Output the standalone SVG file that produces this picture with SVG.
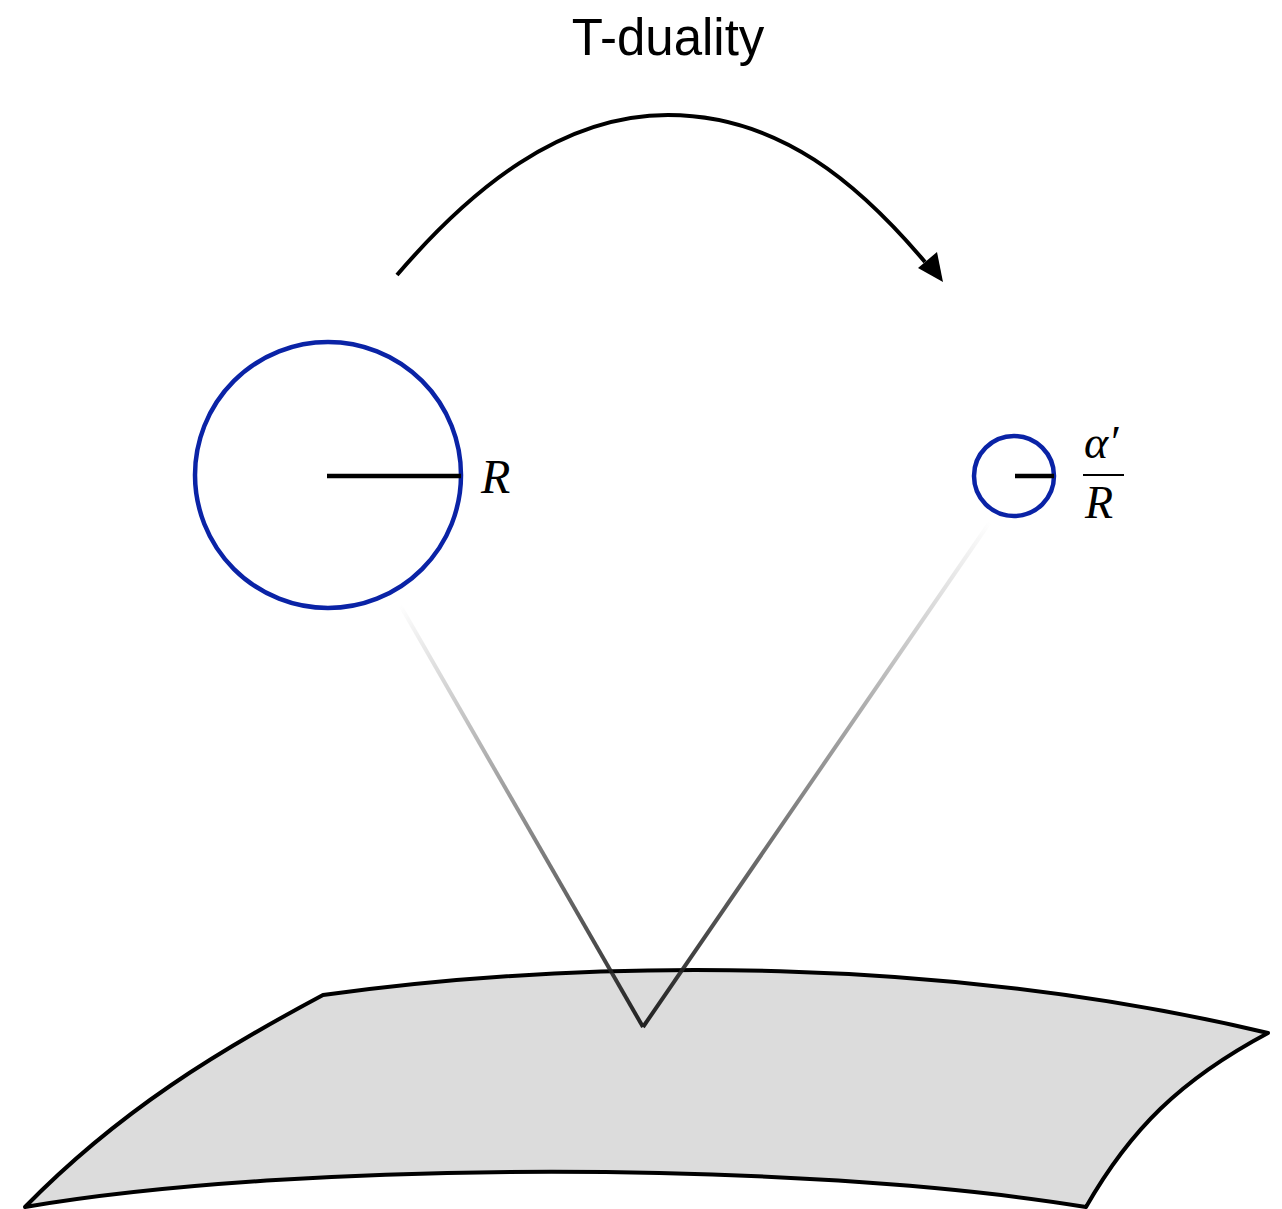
<svg xmlns="http://www.w3.org/2000/svg" width="1282" height="1209" viewBox="0 0 1282 1209">
<style>
.sheet{fill:#dcdcdc;stroke:#000;stroke-width:4;stroke-linejoin:round}
.circ{fill:none;stroke:#0a23a6;stroke-width:4.5}
.rad{stroke:#000;stroke-width:4.5}
.math{font-family:"Liberation Serif","DejaVu Serif",serif;font-style:italic;fill:#000}
.title{font-family:"Liberation Sans",Arial,sans-serif;font-size:51px;fill:#000}
</style>
<defs>
<linearGradient id="gL" gradientUnits="userSpaceOnUse" x1="400" y1="605" x2="643" y2="1027">
<stop offset="0" stop-color="#222" stop-opacity="0"/>
<stop offset="1" stop-color="#222" stop-opacity="1"/>
</linearGradient>
<linearGradient id="gR" gradientUnits="userSpaceOnUse" x1="990" y1="522" x2="643" y2="1027">
<stop offset="0" stop-color="#222" stop-opacity="0"/>
<stop offset="1" stop-color="#222" stop-opacity="1"/>
</linearGradient>
</defs>
<g id="surface">
<path class="sheet" d="M323,995 C600,957 950,957 1268,1033 C1180,1080 1130,1130 1086,1207 C800,1160 300,1160 25,1207 C120,1110 220,1050 323,995 Z"/>
</g>
<g id="connectors">
<line x1="400" y1="605" x2="643" y2="1027" stroke="url(#gL)" stroke-width="4"/>
<line x1="990" y1="522" x2="643" y2="1027" stroke="url(#gR)" stroke-width="4"/>
<path d="M397,275 C470,190 560,115 668,115 C780,115 860,185 925,262" fill="none" stroke="#000" stroke-width="4"/>
<path d="M943,282 L918,268 L937,252 Z" fill="#000"/>
</g>
<g id="bigcircle">
<circle class="circ" cx="328" cy="475" r="133"/>
<line class="rad" x1="327" y1="476" x2="461" y2="476"/>
<text class="math" x="481" y="493" font-size="48">R</text>
</g>
<g id="smallcircle">
<circle class="circ" cx="1014" cy="476" r="40"/>
<line class="rad" x1="1015" y1="476" x2="1054" y2="476"/>
<text class="math" x="1084" y="458" font-size="46">α′</text>
<line x1="1083" y1="475" x2="1124" y2="475" stroke="#000" stroke-width="2"/>
<text class="math" x="1085" y="518" font-size="46">R</text>
</g>
<g id="title">
<text class="title" x="668" y="55" text-anchor="middle">T-duality</text>
</g>
</svg>
